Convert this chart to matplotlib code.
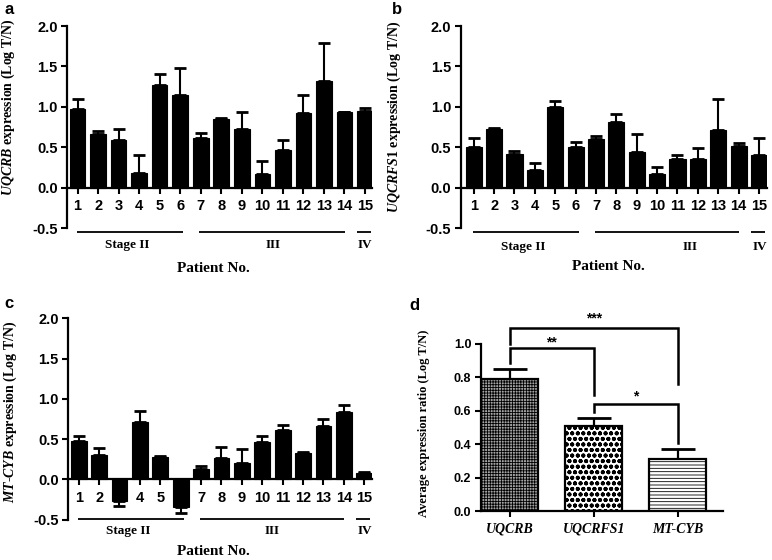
import numpy as np
import matplotlib
matplotlib.use("Agg")
import matplotlib.pyplot as plt

plt.rcParams['axes.unicode_minus'] = False
plt.rcParams['mathtext.fontset'] = 'custom'
plt.rcParams['mathtext.it'] = 'Liberation Serif:italic:bold'
plt.rcParams['mathtext.rm'] = 'Liberation Serif:bold'
plt.rcParams['hatch.color'] = 'black'
plt.rcParams['hatch.linewidth'] = 0.6

# ---------------- data ----------------
patients = list(range(1, 16))
uqcrb_vals = [0.97, 0.66, 0.595, 0.18, 1.27, 1.14, 0.61, 0.85, 0.73, 0.165, 0.47, 0.92, 1.32, 0.93, 0.95]
uqcrb_err = [0.13, 0.04, 0.135, 0.22, 0.14, 0.34, 0.07, 0.01, 0.20, 0.17, 0.12, 0.22, 0.47, 0.01, 0.04]
uqcrfs1_vals = [0.50, 0.72, 0.42, 0.22, 1.00, 0.50, 0.60, 0.81, 0.445, 0.17, 0.35, 0.35, 0.71, 0.51, 0.40]
uqcrfs1_err = [0.12, 0.015, 0.03, 0.08, 0.07, 0.07, 0.04, 0.10, 0.22, 0.09, 0.05, 0.14, 0.39, 0.04, 0.21]
mtcyb_vals = [0.48, 0.30, -0.265, 0.715, 0.277, -0.343, 0.128, 0.265, 0.20, 0.467, 0.616, 0.33, 0.665, 0.84, 0.085]
mtcyb_err = [0.065, 0.09, 0.065, 0.135, 0.008, 0.08, 0.04, 0.14, 0.18, 0.066, 0.057, 0.01, 0.09, 0.08, 0.01]

stage_names = ['Stage II', 'III', 'IV']
stage_members = [[1, 2, 3, 4, 5, 6], [7, 8, 9, 10, 11, 12, 13, 14], [15]]

genes = ['UQCRB', 'UQCRFS1', 'MT-CYB']
avg_vals = [0.787, 0.51, 0.309]
avg_err = [0.062, 0.048, 0.06]
# significance comparisons (index pairs) and labels
sig_pairs = [(0, 2), (0, 1), (1, 2)]
sig_labels = ['***', '**', '*']

SANS = 'Liberation Sans'
SERIF = 'Liberation Serif'

W, H = 772, 560
fig = plt.figure(figsize=(W / 100, H / 100), dpi=100)


def axes_px(left, right, top, bottom):
    return fig.add_axes([left / W, 1 - bottom / H, (right - left) / W, (bottom - top) / H])


def italic_gene(gene):
    parts = gene.split('-')
    return '-'.join(r'$\mathit{%s}$' % p for p in parts)


def patient_panel(ax, vals, errs, gene, xlim, bw, line_y, text_y, pat_y,
                  stage_text_x, label_xy):
    x = np.array(patients)
    vals = np.array(vals)
    errs = np.array(errs)
    upper = np.where(vals >= 0, errs, 0)
    lower = np.where(vals < 0, errs, 0)
    ax.bar(x, vals, width=bw, color='black', edgecolor='black', linewidth=0.8, zorder=2)
    ax.errorbar(x, vals, yerr=[lower, upper], fmt='none', ecolor='black',
                elinewidth=1.5, capsize=4.2, capthick=2.0, zorder=1)
    ax.set_xlim(*xlim)
    ax.set_ylim(-0.5, 2.0)
    ax.set_yticks([-0.5, 0.0, 0.5, 1.0, 1.5, 2.0])
    ax.set_yticklabels(['-0.5', '0.0', '0.5', '1.0', '1.5', '2.0'])
    ax.set_xticks(x)
    ax.set_xticklabels([str(p) for p in patients])
    for s in ['top', 'right']:
        ax.spines[s].set_visible(False)
    ax.spines['bottom'].set_position(('data', 0))
    ax.spines['left'].set_linewidth(1.6)
    ax.spines['bottom'].set_linewidth(1.6)
    ax.tick_params(axis='both', direction='out', length=4.5, width=1.5,
                   labelsize=10.5, pad=2.5)
    ax.tick_params(axis='x', pad=3.5)
    for lab in ax.get_xticklabels() + ax.get_yticklabels():
        lab.set_fontfamily(SANS)
        lab.set_fontweight('bold')
    # stage lines
    for name, mem, tx in zip(stage_names, stage_members, stage_text_x):
        x0 = min(mem) - 0.02
        x1 = max(mem) + (0.15 if len(mem) > 1 else 0.3)
        if len(mem) == 1:
            x0 = min(mem) - 0.4
        if len(mem) == 8:
            x0 = min(mem) - 0.07
            x1 = max(mem) + 0.02
        ax.plot([x0, x1], [line_y, line_y], color='black', lw=1.3,
                clip_on=False, solid_capstyle='butt')
        ax.text(tx, text_y, name, ha='center', va='center', fontfamily=SERIF,
                fontweight='bold', fontsize=9.5, clip_on=False)
    ax.text(7.62, pat_y, 'Patient No.', ha='center', va='center', fontfamily=SERIF,
            fontweight='bold', fontsize=11, clip_on=False)
    ax.set_ylabel(italic_gene(gene) + ' expression (Log T/N)', fontfamily=SERIF,
                  fontweight='bold', fontsize=10)
    ax.yaxis.set_label_coords(*label_xy)


# panel a
ax_a = axes_px(67.3, 372, 26, 228)
patient_panel(ax_a, uqcrb_vals, uqcrb_err, 'UQCRB', (0.50, 15.34), 0.76,
              -0.545, -0.71, -1.0, [3.44, 10.53, 15.0], (-0.166, 0.60))

# panel b
ax_b = axes_px(461, 766.7, 26, 228)
patient_panel(ax_b, uqcrfs1_vals, uqcrfs1_err, 'UQCRFS1', (0.376, 15.38), 0.79,
              -0.545, -0.73, -0.98, [3.42, 11.6, 15.07], (-0.19, 0.55))

# panel c
ax_c = axes_px(68.3, 372, 318.3, 519.7)
patient_panel(ax_c, mtcyb_vals, mtcyb_err, 'MT-CYB', (0.49, 15.38), 0.78,
              -0.49, -0.645, -0.90, [3.43, 10.5, 15.03], (-0.162, 0.536))

# panel d
ax_d = axes_px(481, 723, 343.7, 511)
xd = np.arange(len(genes))
hatches = ['++++++', 'ooo', '-----']
faces = ['#a4a4a4', 'white', 'white']
hlw = [0.6, 1.3, 0.6]
bars = ax_d.bar(xd, avg_vals, width=0.68, color=faces, edgecolor='black',
                linewidth=1.6, zorder=2)
for b, h, lw in zip(bars, hatches, hlw):
    b.set_hatch(h)
    if hasattr(b, 'set_hatch_linewidth'):
        b.set_hatch_linewidth(lw)
ax_d.errorbar(xd, avg_vals, yerr=[np.zeros(3), avg_err], fmt='none', ecolor='black',
              elinewidth=1.6, capsize=12, capthick=2.0, zorder=1)
ax_d.set_xlim(-0.345, 2.54)
ax_d.set_ylim(0, 1.0)
ax_d.set_yticks([0.0, 0.2, 0.4, 0.6, 0.8, 1.0])
ax_d.set_yticklabels(['0.0', '0.2', '0.4', '0.6', '0.8', '1.0'])
ax_d.set_xticks(xd)
ax_d.set_xticklabels(genes)
for s in ['top', 'right']:
    ax_d.spines[s].set_visible(False)
ax_d.spines['left'].set_linewidth(1.6)
ax_d.spines['bottom'].set_linewidth(1.6)
ax_d.tick_params(axis='both', direction='out', length=4.5, width=1.5, pad=2.5)
for lab in ax_d.get_yticklabels():
    lab.set_fontfamily(SANS)
    lab.set_fontweight('bold')
    lab.set_fontsize(9)
for lab in ax_d.get_xticklabels():
    lab.set_fontfamily(SERIF)
    lab.set_fontweight('bold')
    lab.set_fontstyle('italic')
    lab.set_fontsize(10)
ax_d.tick_params(axis='x', pad=4)
ax_d.set_ylabel('Average expression ratio (Log T/N)', fontfamily=SERIF,
                fontweight='bold', fontsize=9)
ax_d.yaxis.set_label_coords(-0.21, 0.524)

# significance brackets
bracket_y = [1.096, 0.972, 0.639]
leg_bottom = [(1.0, 0.757), (0.882, 0.693), (0.594, 0.404)]
star_y = [1.15, 1.01, 0.685]
for (i, j), lab, by, (l0, l1), sy in zip(sig_pairs, sig_labels, bracket_y, leg_bottom, star_y):
    ax_d.plot([xd[i], xd[i], xd[j], xd[j]], [l0, by, by, l1], color='black', lw=1.8,
              clip_on=False, solid_joinstyle='miter')
    ax_d.text((xd[i] + xd[j]) / 2, sy, lab, ha='center', va='center', fontfamily=SANS,
              fontweight='bold', fontsize=10, clip_on=False)

# panel letters
for letter, (px, py) in zip('abcd', [(9, 9), (397, 10), (9, 303), (414, 306)]):
    fig.text(px / W, 1 - py / H, letter, ha='center', va='center', fontfamily=SANS,
             fontweight='bold', fontsize=12)

fig.savefig('out.png', dpi=100)
